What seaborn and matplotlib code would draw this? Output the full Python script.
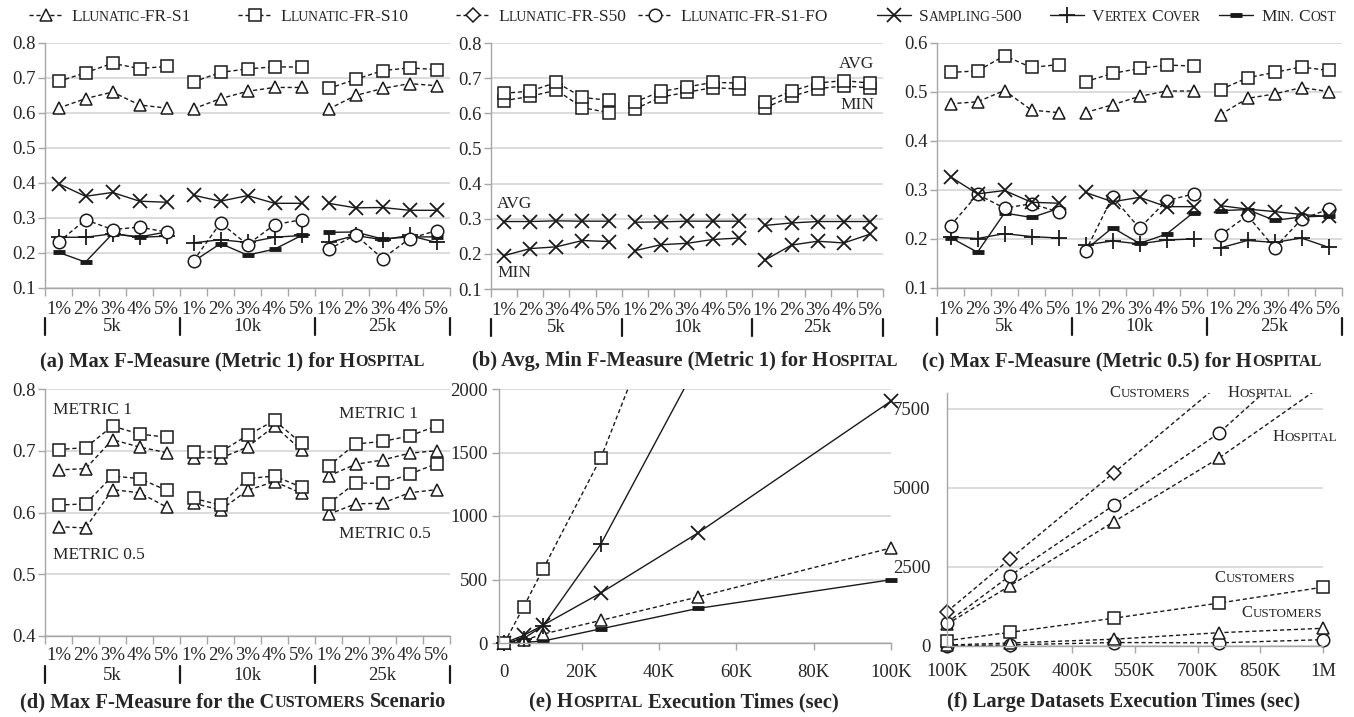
import numpy as np
import pandas as pd
import matplotlib
matplotlib.use("Agg")
import matplotlib.pyplot as plt
import matplotlib.transforms as mtransforms
from matplotlib.lines import Line2D
from matplotlib.patches import Rectangle
from matplotlib.ticker import FixedLocator
import seaborn as sns

sns.set_theme(style="white")
plt.rcParams['font.family'] = ['Liberation Serif', 'DejaVu Serif']

# ===================== data =====================
pcts = ['1%', '2%', '3%', '4%', '5%']
sizes = ['5k', '10k', '25k']

# (a) Max F-Measure (Metric 1) for HOSPITAL
a_s10 = [0.690, 0.715, 0.742, 0.727, 0.733, 0.689, 0.716, 0.726, 0.732, 0.731, 0.670, 0.696, 0.721, 0.729, 0.724]
a_s1 = [0.614, 0.641, 0.660, 0.623, 0.614, 0.612, 0.641, 0.662, 0.673, 0.673, 0.611, 0.650, 0.670, 0.684, 0.678]
a_samp = [0.398, 0.362, 0.373, 0.348, 0.345, 0.365, 0.348, 0.364, 0.342, 0.342, 0.342, 0.329, 0.330, 0.322, 0.322]
a_fo = [0.231, 0.295, 0.267, 0.274, 0.260, 0.178, 0.286, 0.224, 0.281, 0.295, 0.210, 0.252, 0.184, 0.241, 0.264]
a_vc = [0.245, 0.245, 0.255, 0.245, 0.248, 0.229, 0.238, 0.230, 0.245, 0.250, 0.230, 0.250, 0.238, 0.250, 0.230]
a_mc = [0.202, 0.174, 0.255, 0.246, 0.260, 0.176, 0.227, 0.194, 0.211, 0.250, 0.259, 0.260, 0.240, 0.246, 0.246]

# (b) Avg, Min F-Measure (Metric 1) for HOSPITAL
b_avg_s10 = [0.657, 0.663, 0.688, 0.645, 0.637, 0.632, 0.662, 0.675, 0.688, 0.686, 0.632, 0.663, 0.686, 0.693, 0.686]
b_min_s10 = [0.636, 0.648, 0.666, 0.616, 0.602, 0.612, 0.646, 0.660, 0.673, 0.669, 0.616, 0.648, 0.670, 0.678, 0.672]
b_avg_samp = [0.292, 0.292, 0.294, 0.293, 0.293, 0.290, 0.291, 0.293, 0.293, 0.293, 0.281, 0.288, 0.292, 0.292, 0.292]
b_min_samp = [0.195, 0.215, 0.220, 0.238, 0.235, 0.209, 0.226, 0.230, 0.241, 0.245, 0.183, 0.225, 0.236, 0.231, 0.256]

# (c) Max F-Measure (Metric 0.5) for HOSPITAL
c_s10 = [0.540, 0.543, 0.574, 0.550, 0.556, 0.521, 0.538, 0.548, 0.555, 0.553, 0.505, 0.529, 0.540, 0.551, 0.544]
c_s1 = [0.476, 0.480, 0.503, 0.463, 0.458, 0.458, 0.474, 0.491, 0.502, 0.502, 0.454, 0.487, 0.496, 0.509, 0.501]
c_samp = [0.327, 0.292, 0.299, 0.275, 0.273, 0.295, 0.276, 0.285, 0.266, 0.266, 0.268, 0.261, 0.256, 0.250, 0.246]
c_fo = [0.227, 0.291, 0.263, 0.272, 0.255, 0.175, 0.286, 0.222, 0.278, 0.292, 0.208, 0.248, 0.182, 0.240, 0.261]
c_vc = [0.204, 0.201, 0.211, 0.205, 0.202, 0.188, 0.196, 0.190, 0.198, 0.200, 0.182, 0.197, 0.193, 0.202, 0.183]
c_mc = [0.203, 0.173, 0.253, 0.244, 0.262, 0.178, 0.223, 0.191, 0.210, 0.254, 0.258, 0.260, 0.238, 0.245, 0.247]

# (d) Max F-Measure for the CUSTOMERS scenario
d_m1_s10 = [0.702, 0.705, 0.740, 0.727, 0.722, 0.698, 0.698, 0.725, 0.749, 0.712, 0.675, 0.711, 0.715, 0.724, 0.740]
d_m1_s1 = [0.669, 0.671, 0.718, 0.706, 0.697, 0.689, 0.688, 0.706, 0.740, 0.701, 0.659, 0.678, 0.685, 0.696, 0.700]
d_m05_s10 = [0.612, 0.614, 0.659, 0.655, 0.636, 0.623, 0.612, 0.655, 0.659, 0.641, 0.614, 0.648, 0.647, 0.662, 0.679]
d_m05_s1 = [0.577, 0.575, 0.637, 0.632, 0.609, 0.615, 0.604, 0.636, 0.650, 0.631, 0.597, 0.614, 0.615, 0.632, 0.637]

# (e) HOSPITAL execution times (sec)
e_rows = [0, 5000, 10000, 25000, 50000, 100000]
e_s10 = [0, 285, 580, 1460, 3400, 7300]
e_vc = [0, 35, 135, 780, 2200, 5100]
e_samp = [0, 60, 140, 395, 865, 1905]
e_s1 = [0, 20, 70, 178, 362, 748]
e_mc = [0, 5, 15, 112, 272, 498]
e_xticks = [0, 20000, 40000, 60000, 80000, 100000]
e_xlabels = ['0', '20K', '40K', '60K', '80K', '100K']

# (f) Large datasets execution times (sec)
f_rows = [100000, 250000, 500000, 750000, 1000000]
f_cust_s50 = [1085, 2745, 5485, 8250, 11000]
f_hosp_fo = [740, 2215, 4460, 6725, 9700]
f_hosp_s1 = [690, 1900, 3935, 5935, 8250]
f_cust_s10 = [170, 430, 880, 1355, 1860]
f_cust_s1 = [30, 95, 215, 420, 560]
f_cust_fo = [10, 35, 110, 100, 200]
f_xticks = [100000, 250000, 400000, 550000, 700000, 850000, 1000000]
f_xlabels = ['100K', '250K', '400K', '550K', '700K', '850K', '1M']

# ===================== style =====================
W, H, DPI = 1354, 717, 100
GRID = '#d9d9d9'
AXC = '#a6a6a6'
TICK_FS = 13.5
DASH = (0, (3, 2))

STY = {
    'S1': dict(marker='^', ls=DASH, ms=9, mew=1.1),
    'S10': dict(marker='s', ls=DASH, ms=8.5, mew=1.1),
    'S50': dict(marker='D', ls=DASH, ms=7.5, mew=1.1),
    'FO': dict(marker='o', ls=DASH, ms=9, mew=1.1),
    'SAMP': dict(marker='x', ls='-', ms=9.5, mew=1.3),
    'VC': dict(marker='+', ls='-', ms=11, mew=1.3),
    'MC': dict(marker='_', ls='-', ms=9, mew=3.5),
}

fig = plt.figure(figsize=(W / DPI, H / DPI), dpi=DPI)
fig.patch.set_facecolor('white')
renderer = fig.canvas.get_renderer()


def add_ax(l, t, r, b):
    return fig.add_axes([l / W, 1 - b / H, (r - l) / W, (b - t) / H])


def style_axes(ax):
    for s in ['top', 'right']:
        ax.spines[s].set_visible(False)
    for s in ['left', 'bottom']:
        ax.spines[s].set_color(AXC)
        ax.spines[s].set_linewidth(1.0)
    ax.yaxis.grid(True, color=GRID, lw=1.3)
    ax.xaxis.grid(False)
    ax.set_axisbelow(True)
    ax.tick_params(axis='y', left=True, length=5, width=1, color=AXC,
                   labelsize=TICK_FS, pad=2)
    ax.tick_params(axis='x', bottom=True, color=AXC, labelsize=TICK_FS)


def draw(ax, xs, ys, key, units=None):
    st = STY[key]
    df = pd.DataFrame({'x': xs, 'y': ys})
    extra = dict(errorbar=None)
    if units is not None:
        df['u'] = units
        extra = dict(units='u', estimator=None)
    sns.lineplot(data=df, x='x', y='y', ax=ax, color='k', linewidth=1.0,
                 linestyle=st['ls'], marker=st['marker'], markersize=st['ms'],
                 markerfacecolor='w', markeredgecolor='k',
                 markeredgewidth=st['mew'], legend=False, **extra)
    ax.set_xlabel('')
    ax.set_ylabel('')


def cat_axis(ax, lo, hi, pad=9.5):
    ax.set_xlim(-0.5, 14.5)
    ax.set_ylim(lo, hi)
    ticks = np.round(np.arange(lo, hi + 0.05, 0.1), 2)
    ax.set_yticks(ticks)
    ax.set_yticklabels([f'{t:.1f}' for t in ticks])
    ax.set_xticks(np.arange(15))
    ax.set_xticklabels(pcts * 3)
    ax.xaxis.set_minor_locator(FixedLocator(np.arange(-0.5, 15, 1)))
    style_axes(ax)
    ax.tick_params(axis='x', which='major', length=0, pad=pad)
    ax.tick_params(axis='x', which='minor', bottom=True, length=6, width=1, color=AXC)
    hpx = ax.get_position().height * H
    tr = mtransforms.blended_transform_factory(ax.transData, ax.transAxes)
    for b in [-0.5, 4.5, 9.5, 14.5]:
        ax.add_artist(Line2D([b, b], [-30 / hpx, -47 / hpx], transform=tr,
                             color='k', lw=1.6, clip_on=False))
    for i, s in enumerate(sizes):
        ax.text(5 * i + 2, -39 / hpx, s, transform=tr, ha='center', va='center',
                fontsize=TICK_FS)


def sc_text(x, y, parts, ha='left', weight='normal'):
    # small-caps imitation: pieces with different sizes on one baseline (pixels)
    items = []
    for s, size in parts:
        gap = 0.0
        if s.startswith(' '):
            gap = 0.25 * size * DPI / 72
            s = s.lstrip()
        t = fig.text(0, 0, s, fontsize=size, fontweight=weight, va='baseline', ha='left')
        w = t.get_window_extent(renderer).width
        items.append((t, gap, w))
    total = sum(g + w for _, g, w in items)
    x0 = x - total / 2 if ha == 'center' else (x - total if ha == 'right' else x)
    for t, g, w in items:
        x0 += g
        t.set_position((x0 / W, 1 - y / H))
        x0 += w


def ftext(x, y, s, **kw):
    fig.text(x / W, 1 - y / H, s, va='baseline', **kw)


def clip_lines(ax):
    rect = Rectangle((-0.05, -0.1), 1.1, 1.1, transform=ax.transAxes)
    for ln in ax.lines:
        ln.set_clip_path(rect)


grp = np.repeat(sizes, 5)
pos = np.arange(15)

# ===================== (a) =====================
ax_a = add_ax(45, 43, 450, 288)
for vals, key in [(a_mc, 'MC'), (a_vc, 'VC'), (a_fo, 'FO'), (a_samp, 'SAMP'),
                  (a_s1, 'S1'), (a_s10, 'S10')]:
    draw(ax_a, pos, vals, key, units=grp)
cat_axis(ax_a, 0.1, 0.8)

# ===================== (b) =====================
ax_b = add_ax(491, 43, 883, 289)
for vals, key in [(b_min_samp, 'SAMP'), (b_avg_samp, 'SAMP'),
                  (b_min_s10, 'S10'), (b_avg_s10, 'S10')]:
    draw(ax_b, pos, vals, key, units=grp)
cat_axis(ax_b, 0.1, 0.8)
ftext(874, 68, 'AVG', fontsize=12.5, ha='right')
ftext(874, 109, 'MIN', fontsize=12.5, ha='right')
ftext(497, 208, 'AVG', fontsize=12.5, ha='left')
ftext(497, 277, 'MIN', fontsize=12.5, ha='left')

# ===================== (c) =====================
ax_c = add_ax(937, 43, 1342, 288)
for vals, key in [(c_mc, 'MC'), (c_vc, 'VC'), (c_fo, 'FO'), (c_samp, 'SAMP'),
                  (c_s1, 'S1'), (c_s10, 'S10')]:
    draw(ax_c, pos, vals, key, units=grp)
cat_axis(ax_c, 0.1, 0.6)

# ===================== (d) =====================
ax_d = add_ax(45, 389, 450, 636)
for vals, key in [(d_m05_s1, 'S1'), (d_m05_s10, 'S10'),
                  (d_m1_s1, 'S1'), (d_m1_s10, 'S10')]:
    draw(ax_d, pos, vals, key, units=grp)
cat_axis(ax_d, 0.4, 0.8, pad=8)
ftext(53, 414, 'METRIC 1', fontsize=12.5)
ftext(53, 559, 'METRIC 0.5', fontsize=12.5)
ftext(339, 418, 'METRIC 1', fontsize=12.5)
ftext(339, 538, 'METRIC 0.5', fontsize=12.5)

# ===================== (e) =====================
ax_e = add_ax(499, 389, 891, 643)
for vals, key in [(e_mc, 'MC'), (e_s1, 'S1'), (e_samp, 'SAMP'),
                  (e_vc, 'VC'), (e_s10, 'S10')]:
    draw(ax_e, e_rows, vals, key)
ax_e.set_xlim(-1370, 100000)
ax_e.set_ylim(0, 2000)
ax_e.set_xticks(e_xticks)
ax_e.set_xticklabels(e_xlabels)
ax_e.set_yticks([0, 500, 1000, 1500, 2000])
ax_e.set_yticklabels(['0', '500', '1000', '1500', '2000'])
style_axes(ax_e)
ax_e.tick_params(axis='x', length=5, width=1, pad=10)
ax_e.tick_params(axis='y', pad=3)
clip_lines(ax_e)

# ===================== (f) =====================
ax_f = add_ax(947, 393, 1323, 646)
for vals, key in [(f_cust_fo, 'FO'), (f_cust_s1, 'S1'), (f_cust_s10, 'S10'),
                  (f_hosp_s1, 'S1'), (f_hosp_fo, 'FO'), (f_cust_s50, 'S50')]:
    draw(ax_f, f_rows, vals, key)
ax_f.set_xlim(100000, 1000000)
ax_f.set_ylim(0, 8000)
ax_f.set_xticks(f_xticks)
ax_f.set_xticklabels(f_xlabels)
ax_f.set_yticks([0, 2500, 5000, 7500])
ax_f.set_yticklabels(['0', '2500', '5000', '7500'])
style_axes(ax_f)
ax_f.tick_params(axis='x', length=5, width=1, pad=7)
ax_f.tick_params(axis='y', length=0, pad=12)
clip_lines(ax_f)

AB, AS = 12, 9.4
sc_text(1150, 397, [('C', AB), ('USTOMERS', AS)], ha='center')
sc_text(1260, 397, [('H', AB), ('OSPITAL', AS)], ha='center')
sc_text(1305, 441, [('H', AB), ('OSPITAL', AS)], ha='center')
sc_text(1255, 582, [('C', AB), ('USTOMERS', AS)], ha='center')
sc_text(1282, 617, [('C', AB), ('USTOMERS', AS)], ha='center')

# ===================== titles =====================
TB, TS = 14.8, 11.6
sc_text(232, 366, [('(a) Max F-Measure (Metric 1) for H', TB), ('OSPITAL', TS)], ha='center', weight='bold')
sc_text(685, 366, [('(b) Avg, Min F-Measure (Metric 1) for H', TB), ('OSPITAL', TS)], ha='center', weight='bold')
sc_text(1122, 366, [('(c) Max F-Measure (Metric 0.5) for H', TB), ('OSPITAL', TS)], ha='center', weight='bold')
sc_text(233, 707, [('(d) Max F-Measure for the C', TB), ('USTOMERS', TS), (' Scenario', TB)], ha='center', weight='bold')
sc_text(684, 707, [('(e) H', TB), ('OSPITAL', TS), (' Execution Times (sec)', TB)], ha='center', weight='bold')
sc_text(1124, 707, [('(f) Large Datasets Execution Times (sec)', TB)], ha='center', weight='bold')

# ===================== legend =====================
LB, LS = 12.5, 9.8
leg_keys = ['S1', 'S10', 'S50', 'FO', 'SAMP', 'VC', 'MC']
leg_parts = [
    [('L', LB), ('LUNATIC', LS), ('-FR-S1', LB)],
    [('L', LB), ('LUNATIC', LS), ('-FR-S10', LB)],
    [('L', LB), ('LUNATIC', LS), ('-FR-S50', LB)],
    [('L', LB), ('LUNATIC', LS), ('-FR-S1-FO', LB)],
    [('S', LB), ('AMPLING', LS), ('-500', LB)],
    [('V', LB), ('ERTEX', LS), (' C', LB), ('OVER', LS)],
    [('M', LB), ('IN.', LS), (' C', LB), ('OST', LS)],
]
leg_tx = [71, 280, 498, 680, 919, 1092, 1261]
for key, parts, tx in zip(leg_keys, leg_parts, leg_tx):
    st = STY[key]
    x0, x1 = tx - 42, tx - 8
    ln = Line2D([x0 / W, (x0 + x1) / 2 / W, x1 / W], [1 - 15 / H] * 3,
                transform=fig.transFigure, color='k', lw=1.0, linestyle=st['ls'],
                marker=st['marker'], markevery=[1], ms=st['ms'], mfc='w', mec='k',
                mew=st['mew'])
    fig.add_artist(ln)
    sc_text(tx, 21, parts)

fig.savefig('out.png', dpi=DPI, facecolor='white')
print("saved out.png")
